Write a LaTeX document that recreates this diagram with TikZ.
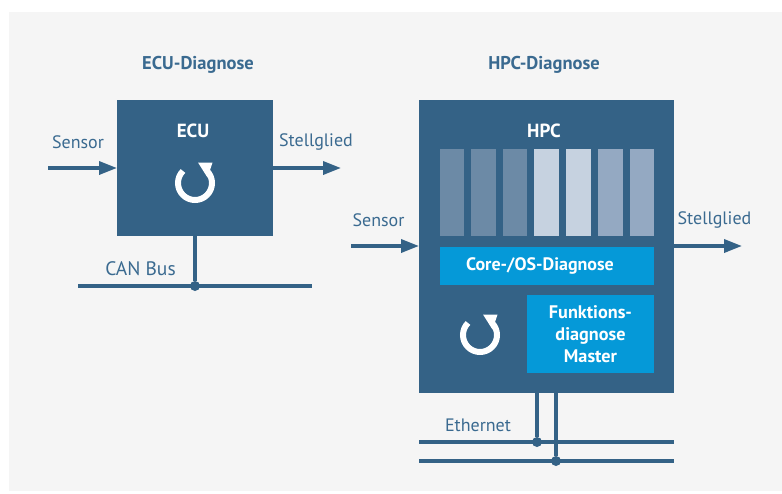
\documentclass[tikz,border=0pt]{standalone}
\usepackage{fontspec}
\setmainfont{PT Sans}
\usetikzlibrary{arrows.meta}
\definecolor{dk}{HTML}{346286}
\definecolor{txt}{HTML}{3A6A90}
\definecolor{blu}{HTML}{0599D8}
\definecolor{panel}{HTML}{F5F5F5}
\definecolor{ba}{HTML}{6C8AA6}
\definecolor{bb}{HTML}{C6D2E0}
\definecolor{bc}{HTML}{94A9C2}
\tikzset{
 x=1pt,y=-1pt,
 box/.style={fill=dk,draw=none,inner sep=0pt,outer sep=0pt},
 blubox/.style={fill=blu,draw=none,inner sep=0pt,outer sep=0pt,text=white,font=\fontsize{18.2}{22}\selectfont\bfseries,align=center},
 bar/.style={draw=none,inner sep=0pt,outer sep=0pt,minimum width=24.5pt,minimum height=87pt},
 lab/.style={text=txt,font=\fontsize{18}{20}\selectfont,inner sep=0pt},
 head/.style={text=txt,font=\fontsize{18.5}{20}\selectfont\bfseries,inner sep=0pt},
 wh/.style={text=white,font=\fontsize{19}{20}\selectfont\bfseries,inner sep=0pt},
 wire/.style={draw=dk,line width=3.5pt},
 arr/.style={wire,-{Triangle[length=18pt,width=13pt]}},
 dot/.style={circle,fill=dk,inner sep=0pt,minimum size=10pt},
 reficon/.pic={
  \draw[white,line width=6pt,x=1pt,y=1pt] (135:17) arc[start angle=135,end angle=405,radius=17];
  \fill[white,x=1pt,y=1pt] (3,20.5) -- (17.5,20.5) -- (12.5,5.5) -- cycle;
 }
}
\begin{document}
\begin{tikzpicture}
\useasboundingbox (0,0) rectangle (782,493);
\fill[white] (0,0) rectangle (782,493);
\fill[panel] (9,12) rectangle (782,491);
% left
\node[head] (t1) at (198,65) {ECU-Diagnose};
\node[box,minimum width=156pt,minimum height=136pt] (ecu) at (195,168) {};
\node[wh] (ecut) at (193,131) {ECU};
\coordinate (s1) at (48,168);
\coordinate (a1) at (341,168);
\draw[arr] (s1) -- (s1 -| ecu.west);
\draw[arr] (a1 -| ecu.east) -- (a1);
\node[lab] (s1t) at (78,142) {Sensor};
\node[lab] (a1t) at (316,142) {Stellglied};
\coordinate (c1) at (78,286);
\coordinate (c2) at (312,286);
\node[dot] (d1) at (195,286) {};
\draw[wire] (c1) -- (c2);
\draw[wire] (ecu.south) -- (d1);
\node[lab,font=\fontsize{19.5}{20}\selectfont] (cant) at (140.5,269) {CAN Bus};
\pic at (195,183) {reficon};
% right
\node[head] (t2) at (544,65) {HPC-Diagnose};
\node[box,minimum width=255pt,minimum height=293pt] (hpc) at (546.5,246.5) {};
\node[wh] (hpct) at (544,131) {HPC};
\node[bar,fill=ba] (b1) at (452,192.5) {};
\node[bar,fill=ba] (b2) at (483.5,192.5) {};
\node[bar,fill=ba] (b3) at (515,192.5) {};
\node[bar,fill=bb] (b4) at (546.5,192.5) {};
\node[bar,fill=bb] (b5) at (578.5,192.5) {};
\node[bar,fill=bc] (b6) at (610.5,192.5) {};
\node[bar,fill=bc] (b7) at (642,192.5) {};
\node[blubox,minimum width=214pt,minimum height=38pt] (core) at (547,266) {};
\node[text=white,font=\fontsize{18}{20}\selectfont\bfseries,inner sep=0pt] (coret) at (540,266) {Core-/OS-Diagnose};
\node[blubox,minimum width=127pt,minimum height=78pt] (fun) at (590.5,334) {Funktions-\\[0pt]diagnose\\[0pt]Master};
\coordinate (s2) at (351,246);
\coordinate (a2) at (742,246);
\draw[arr] (s2) -- (s2 -| hpc.west);
\draw[arr] (a2 -| hpc.east) -- (a2);
\node[lab] (s2t) at (378.5,220) {Sensor};
\node[lab] (a2t) at (714.5,220) {Stellglied};
\coordinate (e1l) at (419,442);
\coordinate (e1r) at (674,442);
\coordinate (e2l) at (419,461);
\coordinate (e2r) at (674,461);
\node[dot] (d2) at (537,442) {};
\node[dot] (d3) at (556,461) {};
\draw[wire] (e1l) -- (e1r);
\draw[wire] (e2l) -- (e2r);
\draw[wire] (d2 |- hpc.south) -- (d2);
\draw[wire] (d3 |- hpc.south) -- (d3);
\node[lab] (et) at (478,425) {Ethernet};
\pic at (480,335) {reficon};
\end{tikzpicture}
\end{document}
